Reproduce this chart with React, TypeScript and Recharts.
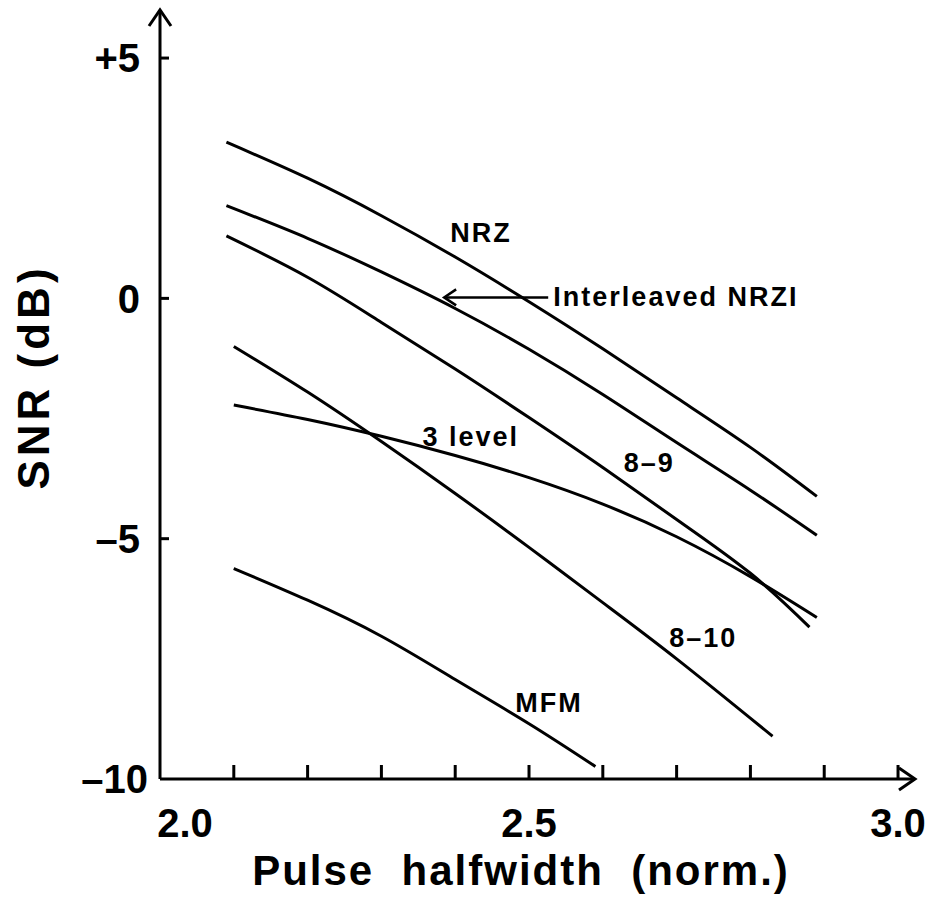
import { LineChart, Line, XAxis, YAxis, ReferenceDot, ReferenceLine } from 'recharts';

// [pulse halfwidth, SNR dB]
const nrz = [[2.09, 3.25], [2.2, 2.5], [2.3, 1.72], [2.4, 0.86], [2.5, -0.07], [2.6, -1.05], [2.7, -2.07], [2.8, -3.1], [2.89, -4.12]];
const nrziInterleaved = [[2.09, 1.93], [2.2, 1.25], [2.3, 0.55], [2.4, -0.21], [2.5, -1.06], [2.6, -2.0], [2.7, -3.0], [2.8, -3.99], [2.89, -4.93]];
const code89 = [[2.09, 1.3], [2.2, 0.44], [2.3, -0.5], [2.4, -1.47], [2.5, -2.48], [2.6, -3.52], [2.7, -4.6], [2.8, -5.72], [2.88, -6.84]];
const threeLevel = [[2.1, -2.22], [2.2, -2.52], [2.3, -2.87], [2.4, -3.27], [2.5, -3.73], [2.6, -4.28], [2.7, -4.96], [2.8, -5.79], [2.89, -6.64]];
const code810 = [[2.1, -1.0], [2.2, -1.95], [2.3, -2.98], [2.4, -4.06], [2.5, -5.18], [2.6, -6.33], [2.7, -7.5], [2.83, -9.11]];
const mfm = [[2.1, -5.62], [2.2, -6.28], [2.3, -7.03], [2.4, -7.93], [2.5, -8.85], [2.59, -9.74]];

const xTicks = [2.0, 2.1, 2.2, 2.3, 2.4, 2.5, 2.6, 2.7, 2.8, 2.9, 3.0];
const xLabels = [2.0, 2.5, 3.0];
const yTicks = [-10, -5, 0, 5];

// curve labels: [text, x, y]
const curveLabels: [string, number, number][] = [
  ['NRZ', 2.435, 1.37],
  ['3 level', 2.421, -2.87],
  ['8\u20139', 2.663, -3.41],
  ['8\u201310', 2.736, -7.05],
  ['MFM', 2.527, -8.4],
];

const toRows = (pts: number[][]) => pts.map(([x, snr]) => ({ x, snr }));

const series = [nrz, nrziInterleaved, code89, threeLevel, code810, mfm];

const font = '"Liberation Sans", Arial, Helvetica, sans-serif';

const XTick = (props: any) => {
  const { x, y, payload } = props;
  const v = payload.value;
  const showLabel = xLabels.some(l => Math.abs(l - v) < 1e-6);
  return (
    <g>
      {v > 2.05 && <line x1={x} x2={x} y1={y} y2={y - 14} stroke="#000" strokeWidth={3} />}
      {showLabel && (
        <text x={x + (v < 2.05 ? 25 : 0)} y={y + 58} textAnchor="middle" fontFamily={font}
          fontWeight="bold" fontSize={40} fill="#000">
          {v.toFixed(1)}
        </text>
      )}
    </g>
  );
};

const YTick = (props: any) => {
  const { x, y, payload } = props;
  const v = payload.value;
  const label = v > 0 ? `+${v}` : `${v}`;
  return (
    <g>
      {v > -10 && <line x1={x} x2={x + 9} y1={y} y2={y} stroke="#000" strokeWidth={3} />}
      <text x={v === -10 ? x - 12 : x - 20} y={y} dy="0.36em" textAnchor="end" fontFamily={font}
        fontWeight="bold" fontSize={40} fill="#000">
        {label.replace('-', '\u2013')}
      </text>
    </g>
  );
};

const ArrowUp = (props: any) => {
  const { cx, cy } = props;
  return <polyline points={`${cx - 11},${cy + 16} ${cx},${cy} ${cx + 11},${cy + 16}`} fill="none" stroke="#000" strokeWidth={3} />;
};

const ArrowRight = (props: any) => {
  const { cx, cy } = props;
  return <polyline points={`${cx - 16},${cy - 11} ${cx},${cy} ${cx - 16},${cy + 11}`} fill="none" stroke="#000" strokeWidth={3} />;
};

const ArrowLeft = (props: any) => {
  const { cx, cy } = props;
  return <polyline points={`${cx + 12},${cy - 8} ${cx},${cy} ${cx + 12},${cy + 8}`} fill="none" stroke="#000" strokeWidth={2.5} />;
};

const YTitle = () => (
  <text x={33} y={377} transform="rotate(-90 33 377)" textAnchor="middle" dominantBaseline="central"
    fontFamily={font} fontWeight="bold" fontSize={44} letterSpacing={4} fill="#000">
    SNR (dB)
  </text>
);

const XTitle = () => (
  <text x={521} y={885} textAnchor="middle" fontFamily={font} fontWeight="bold" fontSize={42}
    letterSpacing={2} fill="#000" style={{ whiteSpace: 'pre' }}>
    {'Pulse  halfwidth  (norm.)'}
  </text>
);

export default function App() {
  return (
    <div style={{ position: 'absolute', left: 0, top: 0, width: 929, height: 900, background: '#fff' }}>
      <LineChart width={929} height={900} margin={{ top: 10, right: 14, bottom: 0, left: 0 }}>
        <XAxis
          dataKey="x"
          type="number"
          domain={[2, 3.023]}
          ticks={xTicks}
          allowDataOverflow
          height={121}
          tickSize={0}
          tickMargin={0}
          tick={<XTick />}
          axisLine={{ stroke: '#000', strokeWidth: 3 }}
          tickLine={false}
          label={<XTitle />}
        />
        <YAxis
          type="number"
          domain={[-10, 6]}
          ticks={yTicks}
          allowDataOverflow
          width={160}
          tickSize={0}
          tickMargin={0}
          tick={<YTick />}
          axisLine={{ stroke: '#000', strokeWidth: 3 }}
          tickLine={false}
          label={<YTitle />}
        />
        {series.map((pts, i) => (
          <Line
            key={i}
            data={toRows(pts)}
            dataKey="snr"
            type="natural"
            stroke="#000"
            strokeWidth={3}
            dot={false}
            isAnimationActive={false}
          />
        ))}
        <ReferenceDot x={2} y={6} r={0} shape={<ArrowUp />} ifOverflow="visible" />
        <ReferenceDot x={3.023} y={-10} r={0} shape={<ArrowRight />} ifOverflow="visible" />
        <ReferenceLine
          segment={[{ x: 2.385, y: 0.02 }, { x: 2.526, y: 0.02 }]}
          stroke="#000"
          strokeWidth={2.5}
          ifOverflow="visible"
        />
        <ReferenceDot x={2.385} y={0.02} r={0} shape={<ArrowLeft />} ifOverflow="visible" />
        <ReferenceDot
          x={2.533}
          y={0.04}
          r={0}
          ifOverflow="visible"
          label={{ value: 'Interleaved NRZI', position: 'right', offset: 0, fontFamily: font, fontWeight: 'bold', fontSize: 27, letterSpacing: 2, fill: '#000' }}
        />
        {curveLabels.map(([text, x, y]) => (
          <ReferenceDot
            key={text}
            x={x}
            y={y}
            r={0}
            ifOverflow="visible"
            label={{ value: text, position: 'center', fontFamily: font, fontWeight: 'bold', fontSize: 27, letterSpacing: 2, fill: '#000' }}
          />
        ))}
      </LineChart>
    </div>
  );
}
